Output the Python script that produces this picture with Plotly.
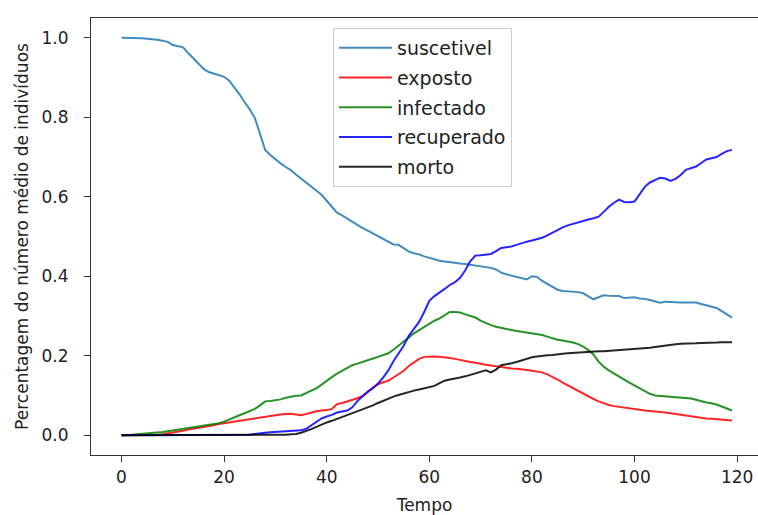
import plotly.graph_objects as go

tempo = list(range(120))

suscetivel = [1.000,1.000,1.000,1.000,0.999,0.998,0.997,0.995,0.993,0.990,
0.982,0.979,0.976,0.962,0.948,0.935,0.922,0.914,0.910,0.906,
0.902,0.892,0.876,0.858,0.838,0.820,0.798,0.755,0.718,0.705,
0.694,0.684,0.675,0.667,0.656,0.646,0.636,0.627,0.616,0.605,
0.590,0.574,0.560,0.553,0.545,0.536,0.529,0.521,0.515,0.508,
0.500,0.493,0.485,0.480,0.479,0.470,0.462,0.458,0.455,0.450,
0.446,0.442,0.439,0.437,0.435,0.434,0.432,0.431,0.429,0.427,
0.426,0.424,0.421,0.417,0.409,0.405,0.402,0.399,0.396,0.392,
0.400,0.398,0.388,0.380,0.373,0.366,0.363,0.362,0.361,0.360,
0.357,0.349,0.342,0.347,0.352,0.351,0.350,0.350,0.345,0.346,
0.347,0.344,0.343,0.340,0.337,0.333,0.336,0.335,0.335,0.334,
0.334,0.334,0.334,0.330,0.327,0.324,0.320,0.312,0.304,0.296]

exposto = [0.000,0.000,0.000,0.000,0.000,0.000,0.000,0.001,0.002,0.004,
0.006,0.008,0.011,0.014,0.016,0.018,0.020,0.023,0.025,0.028,
0.030,0.032,0.035,0.037,0.039,0.041,0.043,0.045,0.047,0.049,
0.050,0.052,0.053,0.054,0.052,0.050,0.053,0.057,0.060,0.062,
0.063,0.066,0.078,0.081,0.085,0.089,0.093,0.099,0.108,0.120,
0.128,0.133,0.137,0.145,0.153,0.162,0.174,0.184,0.192,0.197,
0.198,0.198,0.197,0.196,0.194,0.192,0.189,0.186,0.184,0.182,
0.179,0.177,0.175,0.173,0.171,0.170,0.168,0.167,0.166,0.164,
0.162,0.160,0.158,0.153,0.147,0.140,0.132,0.125,0.119,0.112,
0.103,0.097,0.091,0.085,0.080,0.076,0.073,0.071,0.069,0.067,
0.066,0.064,0.062,0.061,0.060,0.059,0.057,0.055,0.053,0.052,
0.050,0.048,0.046,0.044,0.042,0.041,0.040,0.039,0.038,0.037]

infectado = [0.000,0.000,0.001,0.002,0.003,0.004,0.005,0.006,0.008,0.010,
0.012,0.014,0.016,0.018,0.020,0.022,0.024,0.026,0.028,0.030,
0.034,0.040,0.045,0.050,0.055,0.060,0.066,0.075,0.085,0.086,
0.088,0.090,0.094,0.097,0.099,0.100,0.105,0.112,0.118,0.128,
0.138,0.146,0.155,0.162,0.170,0.176,0.180,0.185,0.189,0.193,
0.197,0.201,0.206,0.215,0.226,0.236,0.246,0.256,0.264,0.273,
0.280,0.288,0.294,0.303,0.310,0.310,0.309,0.304,0.300,0.296,
0.288,0.282,0.277,0.273,0.270,0.267,0.264,0.262,0.260,0.258,
0.256,0.254,0.252,0.248,0.243,0.240,0.238,0.236,0.233,0.229,
0.223,0.214,0.203,0.185,0.172,0.163,0.156,0.149,0.140,0.132,
0.125,0.118,0.110,0.104,0.100,0.099,0.098,0.097,0.096,0.095,
0.094,0.092,0.089,0.085,0.082,0.080,0.077,0.072,0.067,0.062]

recuperado = [0.000,0.000,0.000,0.000,0.000,0.000,0.000,0.000,0.000,0.000,
0.000,0.000,0.000,0.000,0.000,0.000,0.000,0.000,0.000,0.000,
0.000,0.000,0.000,0.000,0.000,0.001,0.003,0.005,0.006,0.007,
0.008,0.008,0.009,0.010,0.011,0.012,0.016,0.024,0.034,0.042,
0.047,0.051,0.057,0.060,0.062,0.070,0.086,0.098,0.110,0.118,
0.130,0.145,0.163,0.186,0.204,0.225,0.250,0.268,0.285,0.310,
0.338,0.350,0.358,0.368,0.378,0.385,0.396,0.415,0.438,0.452,
0.453,0.455,0.456,0.463,0.471,0.473,0.475,0.479,0.484,0.487,
0.490,0.493,0.497,0.503,0.510,0.516,0.523,0.528,0.532,0.536,
0.540,0.543,0.546,0.550,0.562,0.575,0.585,0.593,0.587,0.586,
0.588,0.605,0.625,0.636,0.643,0.648,0.646,0.640,0.645,0.655,
0.668,0.673,0.676,0.685,0.694,0.697,0.700,0.708,0.715,0.718]

morto = [0.000,0.000,0.000,0.000,0.000,0.000,0.000,0.000,0.000,0.000,
0.000,0.000,0.000,0.000,0.000,0.000,0.000,0.000,0.000,0.000,
0.000,0.000,0.000,0.000,0.000,0.000,0.000,0.000,0.000,0.000,
0.000,0.000,0.001,0.002,0.003,0.006,0.010,0.015,0.021,0.027,
0.032,0.036,0.041,0.045,0.050,0.055,0.059,0.064,0.069,0.075,
0.081,0.087,0.092,0.097,0.101,0.105,0.109,0.112,0.115,0.118,
0.121,0.124,0.131,0.137,0.140,0.142,0.145,0.148,0.152,0.156,
0.160,0.163,0.158,0.165,0.176,0.178,0.181,0.184,0.188,0.192,
0.196,0.198,0.200,0.201,0.202,0.204,0.205,0.206,0.207,0.208,
0.208,0.209,0.210,0.211,0.211,0.212,0.213,0.213,0.214,0.215,
0.216,0.217,0.218,0.220,0.222,0.224,0.226,0.228,0.229,0.230,
0.230,0.231,0.231,0.232,0.232,0.233,0.233,0.234,0.234,0.234]

series = [
    ("suscetivel", suscetivel, "#1f77b4"),
    ("exposto", exposto, "#ff0000"),
    ("infectado", infectado, "#008000"),
    ("recuperado", recuperado, "#0000ff"),
    ("morto", morto, "#000000"),
]

fig = go.Figure()
for name, vals, color in series:
    fig.add_trace(go.Scatter(
        x=tempo, y=vals, mode="lines", name=name, legendgroup=name,
        line=dict(color=color, width=2), opacity=0.85,
    ))

FONT = "DejaVu Sans"
fig.update_layout(
    width=758, height=515,
    margin=dict(l=91, r=0, t=18, b=60),
    paper_bgcolor="white", plot_bgcolor="white",
    font=dict(family=FONT, size=17, color="#222222"),
    showlegend=True,
    legend=dict(
        x=(333 - 91) / 667, y=(455 - 28) / 437, xanchor="left", yanchor="top",
        bgcolor="rgba(255,255,255,0.8)", bordercolor="#cccccc", borderwidth=1,
        font=dict(family=FONT, size=19, color="#222222"),
        tracegroupgap=2, traceorder="grouped", itemwidth=53,
    ),
    xaxis=dict(
        range=[-5.95, 124.07], tickvals=[0, 20, 40, 60, 80, 100, 120],
        showgrid=False, zeroline=False, showline=True, linecolor="#333333",
        linewidth=1.2, mirror=True, ticks="outside", ticklen=6,
        tickcolor="#333333", tickfont=dict(size=17), automargin=False,
        title=dict(text="Tempo", standoff=14, font=dict(size=17)),
    ),
    yaxis=dict(
        range=[-0.05, 1.05], tickvals=[0, 0.2, 0.4, 0.6, 0.8, 1.0],
        tickformat=".1f", ticklabelstandoff=12,
        showgrid=False, zeroline=False, showline=True, linecolor="#333333",
        linewidth=1.2, mirror=False, ticks="outside", ticklen=6,
        tickcolor="#333333", tickfont=dict(size=17), automargin=False,
        title=dict(text="Percentagem do número médio de indivíduos", standoff=8,
                   font=dict(size=17)),
    ),
)

fig.write_html(
    "out.html",
    config={"displayModeBar": False},
    post_script="document.body.style.margin='0';document.body.style.overflow='hidden';",
)
